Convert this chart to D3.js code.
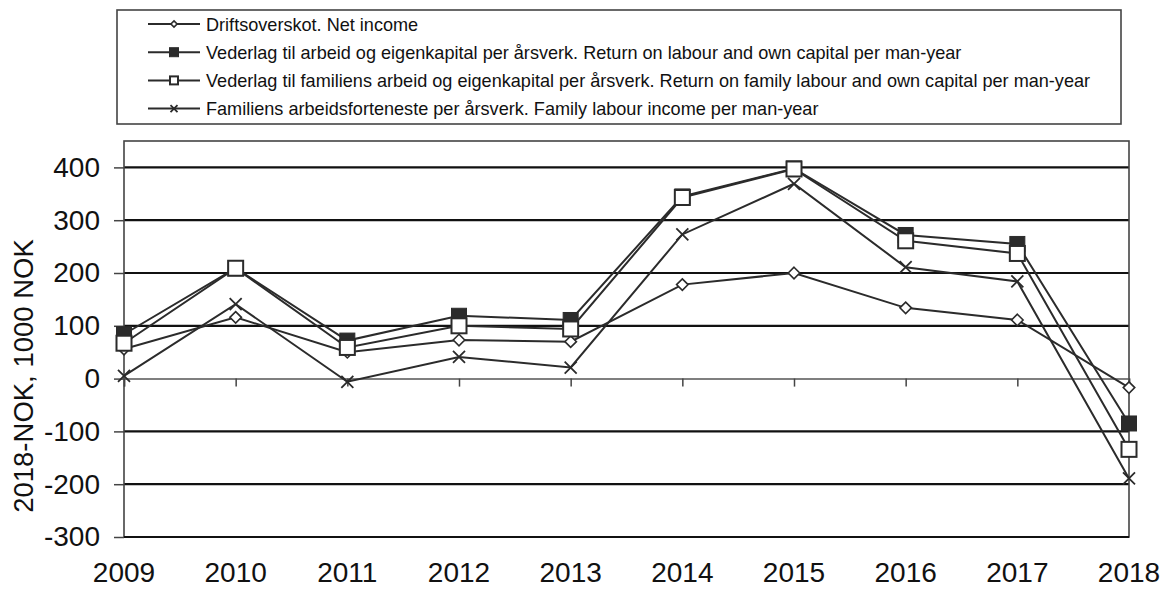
<!DOCTYPE html>
<html>
<head>
<meta charset="utf-8">
<script src="https://cdn.jsdelivr.net/npm/d3@7"></script>
<style>
  body { margin: 0; background: #fff; }
  svg { font-family: "Liberation Sans", Arial, sans-serif; }
</style>
</head>
<body>
<div id="chart"></div>
<script>
// data (2018-NOK, 1000 NOK)
const years = [2009, 2010, 2011, 2012, 2013, 2014, 2015, 2016, 2017, 2018];
const netIncome    = [56, 116, 50, 73, 70, 178, 200, 134, 111, -17];
const returnLabour = [84, 209, 72, 119, 111, 345, 398, 272, 255, -85];
const returnFamily = [67, 209, 59, 100, 94, 343, 397, 261, 237, -134];
const familyIncome = [5, 141, -6, 41, 21, 273, 369, 211, 184, -189];
const yTicks = [-300, -200, -100, 0, 100, 200, 300, 400];
const gridValues = [-200, -100, 100, 200, 300, 400];
const legendLabels = [
    "Driftsoverskot. Net income",
    "Vederlag til arbeid og eigenkapital per årsverk. Return on labour and own capital per man-year",
    "Vederlag til familiens arbeid og eigenkapital per årsverk. Return on family labour and own capital per man-year",
    "Familiens arbeidsforteneste per årsverk. Family labour income per man-year"
];

const series = [
    {name: legendLabels[0], values: netIncome, marker: "diamond"},
    {name: legendLabels[1], values: returnLabour, marker: "filled"},
    {name: legendLabels[2], values: returnFamily, marker: "open"},
    {name: legendLabels[3], values: familyIncome, marker: "cross"}
];

const width = 1172, height = 590;
const plot = {left: 124, right: 1129, top: 141, bottom: 537};
const ink = "#2b2b2b";

const svg = d3.select("#chart")
    .append("svg")
    .attr("width", width)
    .attr("height", height);

const xScale = d3.scaleLinear().domain([2009, 2018]).range([plot.left, plot.right]);
const yScale = d3.scaleLinear().domain([-300, 450]).range([plot.bottom, plot.top]);

// gridlines
svg.append("g")
    .selectAll("line")
    .data(gridValues)
    .enter()
    .append("line")
    .attr("x1", plot.left)
    .attr("x2", plot.right)
    .attr("y1", d => yScale(d))
    .attr("y2", d => yScale(d))
    .attr("stroke", "#111")
    .attr("stroke-width", 2.2);

// plot frame
svg.append("rect")
    .attr("x", plot.left)
    .attr("y", plot.top)
    .attr("width", plot.right - plot.left)
    .attr("height", plot.bottom - plot.top)
    .attr("fill", "none")
    .attr("stroke", "#444")
    .attr("stroke-width", 1.6);
svg.append("line")
    .attr("x1", plot.left).attr("x2", plot.right)
    .attr("y1", plot.bottom).attr("y2", plot.bottom)
    .attr("stroke", "#111").attr("stroke-width", 2.2);

// y axis (plain hyphen for negatives, like the original)
const yAxis = d3.axisLeft(yScale)
    .tickValues(yTicks)
    .tickSize(10)
    .tickPadding(14)
    .tickFormat(d => String(d));
const yAxisG = svg.append("g")
    .attr("transform", `translate(${plot.left},0)`)
    .call(yAxis);
yAxisG.select(".domain").remove();
yAxisG.selectAll(".tick line").attr("stroke", "#444").attr("stroke-width", 1.5);
yAxisG.selectAll("text")
    .attr("fill", "#111")
    .style("font-size", "28px")
    .style("font-family", "Liberation Sans, Arial, sans-serif");

// x axis sits on the zero line, ticks pointing down
const xAxis = d3.axisBottom(xScale).tickValues(years).tickSize(8).tickFormat("");
const xAxisG = svg.append("g")
    .attr("transform", `translate(0,${yScale(0)})`)
    .call(xAxis);
xAxisG.select(".domain").attr("stroke", "#555").attr("stroke-width", 1.5);
xAxisG.selectAll(".tick line").attr("stroke", "#444").attr("stroke-width", 1.5);

// year labels below the plot
svg.append("g")
    .selectAll("text")
    .data(years)
    .enter()
    .append("text")
    .attr("x", d => xScale(d))
    .attr("y", 582)
    .attr("text-anchor", "middle")
    .attr("fill", "#111")
    .style("font-size", "28px")
    .text(d => d);

// y title
svg.append("text")
    .attr("transform", "translate(33,376) rotate(-90)")
    .attr("text-anchor", "middle")
    .attr("fill", "#111")
    .style("font-size", "27.5px")
    .text("2018-NOK, 1000 NOK");

// markers
function drawMarker(g, type, size) {
    if (type == "diamond") {
        g.append("path")
            .attr("d", d3.symbol(d3.symbolDiamond2, size * size * 0.5)())
            .attr("fill", "#fff").attr("stroke", ink).attr("stroke-width", 1.6);
    }
    if (type == "filled") {
        g.append("rect")
            .attr("x", -size / 2).attr("y", -size / 2)
            .attr("width", size).attr("height", size)
            .attr("fill", ink).attr("stroke", ink).attr("stroke-width", 1);
    }
    if (type == "open") {
        g.append("rect")
            .attr("x", -size / 2).attr("y", -size / 2)
            .attr("width", size).attr("height", size)
            .attr("fill", "#fff").attr("stroke", ink).attr("stroke-width", 2);
    }
    if (type == "cross") {
        g.append("path")
            .attr("d", `M${-size / 2},${-size / 2}L${size / 2},${size / 2}M${-size / 2},${size / 2}L${size / 2},${-size / 2}`)
            .attr("fill", "none").attr("stroke", ink).attr("stroke-width", 1.8);
    }
}

const markerSize = {diamond: 13, filled: 15, open: 15, cross: 12};
const line = d3.line().x((d, i) => xScale(years[i])).y(d => yScale(d));

series.forEach(s => {
    svg.append("path")
        .datum(s.values)
        .attr("fill", "none")
        .attr("stroke", ink)
        .attr("stroke-width", 2)
        .attr("d", line);
});

series.forEach(s => {
    s.values.forEach((v, i) => {
        const g = svg.append("g")
            .attr("transform", `translate(${xScale(years[i])},${yScale(v)})`);
        drawMarker(g, s.marker, markerSize[s.marker]);
    });
});

// legend
const legend = svg.append("g");
legend.append("rect")
    .attr("x", 117).attr("y", 10)
    .attr("width", 1004).attr("height", 114)
    .attr("fill", "#fff")
    .attr("stroke", "#444")
    .attr("stroke-width", 1.6);

const legendMarker = {diamond: 7, filled: 9, open: 8, cross: 7};
const legendRows = legend.selectAll(".row")
    .data(series)
    .enter()
    .append("g")
    .attr("class", "row")
    .attr("transform", (d, i) => `translate(0,${24 + i * 28.2})`);

legendRows.append("line")
    .attr("x1", 148).attr("x2", 200)
    .attr("y1", 0).attr("y2", 0)
    .attr("stroke", ink).attr("stroke-width", 2);
legendRows.each(function (d) {
    const g = d3.select(this).append("g").attr("transform", "translate(174,0)");
    drawMarker(g, d.marker, legendMarker[d.marker]);
});
legendRows.append("text")
    .attr("x", 206)
    .attr("y", 6.5)
    .attr("fill", "#111")
    .style("font-size", "18.1px")
    .text(d => d.name);
</script>
</body>
</html>
